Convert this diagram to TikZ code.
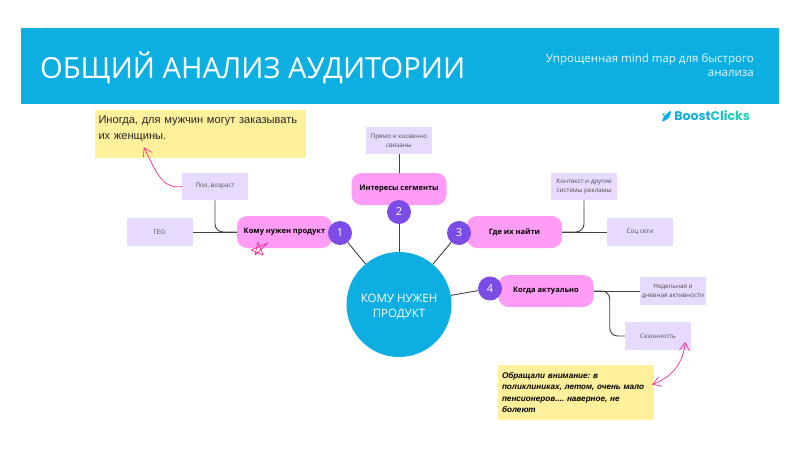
\documentclass[tikz,border=0pt]{standalone}
\usepackage{fontspec}
\setmainfont{Open Sans}
\newfontfamily\notefont{Liberation Sans}
\newfontfamily\logofont{Poppins}
\usetikzlibrary{arrows.meta,positioning,calc}
\definecolor{headblue}{HTML}{0DAEE2}
\definecolor{lilac}{HTML}{E8DAFF}
\definecolor{topicpink}{HTML}{FF9DF6}
\definecolor{badgeviolet}{HTML}{7B4DE6}
\definecolor{noteyellow}{HTML}{FFF09C}
\definecolor{penpink}{HTML}{EE2E8E}
\definecolor{logoteal}{HTML}{19CDB8}
\tikzset{
  leaf/.style={fill=lilac, minimum width=66pt, minimum height=27.5pt, inner sep=0pt, align=center,
    text=black!70, font=\fontsize{6.3}{9}\selectfont},
  topic/.style={fill=topicpink, rounded corners=10pt, minimum width=95pt, minimum height=32pt, inner sep=0pt,
    font=\bfseries\fontsize{7.5}{9}\selectfont},
  badge/.style={circle, fill=badgeviolet, minimum size=24pt, inner sep=0pt, text=white,
    font=\fontsize{11}{12}\selectfont},
  link/.style={draw=black!75, line width=0.9pt, rounded corners=8pt},
  pen/.style={draw=penpink, line width=0.7pt},
  barb/.style={-{Straight Barb[length=8pt,width=10pt]}}
}
\begin{document}
\begin{tikzpicture}[x=1pt, y=-1pt, on grid]
    \useasboundingbox (0,0) rectangle (800,450);
    \fill[headblue] (21,28) rectangle (779,104);
    \node[anchor=west, inner sep=0pt, text=white, font=\fontsize{29.1}{34}\selectfont] (title) at (40,68) {ОБЩИЙ АНАЛИЗ АУДИТОРИИ};
    \node[anchor=east, inner sep=0pt, align=right, text=white!90!headblue, font=\fontsize{11.5}{14.5}\selectfont] (subtitle) at (754,65) {Упрощенная mind map для быстрого\\анализа};
    \node[anchor=east, inner sep=0pt, font=\logofont\bfseries\fontsize{12.5}{14}\selectfont] (logo) at (750,115.5) {\textcolor{headblue}{Boost}\textcolor{logoteal!70!headblue}{Cli}\textcolor{logoteal}{cks}};
    \fill[headblue] (662,121) -- (664,116) -- (670,111) -- (671,112) -- (669,118) -- (664,121) -- cycle;
    \fill[logoteal] (662,114) -- (665,113) -- (663,116) -- cycle;

    \node[circle, fill=headblue, minimum size=105pt, inner sep=0pt, align=center, text=white, font=\fontsize{11.5}{15}\selectfont] (hub) at (399,304.5) {\rule{0pt}{14pt}КОМУ НУЖЕН\\ПРОДУКТ};

    \node[topic] (who) [above left=72.5pt and 114.5pt of hub] {Кому нужен продукт};
    \node[topic] (inter) [above=115.5pt of hub] {Интересы сегменты};
    \node[topic] (where) [above right=72.5pt and 115.5pt of hub] {Где их найти};
    \node[topic] (when) [above right=13.5pt and 147pt of hub] {Когда актуально};

    \node[leaf] (geo) [left=125pt of who] {ГЕО};
    \node[leaf] (sex) [above left=45.5pt and 69.5pt of who] {Пол, возраст};
    \node[leaf] (direct) [above=48.5pt of inter] {Прямо и косвенно\\связаны};
    \node[leaf] (context) [above right=45.5pt and 69.5pt of where] {Контекст и другие\\системы рекламы};
    \node[leaf] (social) [right=125.5pt of where] {Соц сети};
    \node[leaf] (week) [right=127pt of when] {Недельная и\\дневная активности};
    \node[leaf] (season) [below right=45pt and 112pt of when] {Сезонность};

    \path[link] (who) -- (geo);
    \path[link] (sex) |- (who);
    \path[link] (inter) -- (direct);
    \path[link] (where) -- (social);
    \path[link] (context) |- (where.east);
    \path[link] (when) -- (week);
    \coordinate (whenbend) at ([xshift=16pt]when.east);
    \path[link] (when.east) -- (whenbend) |- (season.west);

    \node[badge] (num1) [above left=71.5pt and 59pt of hub] {1};
    \node[badge] (num2) [above=92.5pt of hub] {2};
    \node[badge] (num3) [above right=71.5pt and 60pt of hub] {3};
    \node[badge] (num4) [above right=16pt and 91pt of hub] {4};
    \foreach \badgename in {num1,num2,num3,num4}
      \path[link] (\badgename) -- (hub);

    \node[fill=noteyellow, minimum width=211pt, minimum height=48pt, text width=204pt, inner xsep=3.5pt, inner ysep=2pt, align=left, text=black!85,
      font=\notefont\fontsize{11.1}{16.5}\selectfont] (noteA) [above left=52.5pt and 14.5pt of sex] {Иногда, для мужчин могут заказывать\\их женщины.\vspace{10pt}};
    \node[fill=noteyellow, minimum width=156pt, minimum height=55pt, text width=148pt, inner sep=4pt, align=left,
      font=\notefont\bfseries\itshape\frenchspacing\fontsize{8.15}{11.2}\selectfont] (noteB) [below left=56.5pt and 82pt of season] {Обращали внимание: в\\поликлиниках, летом, очень мало\\пенсионеров.... наверное, не\\болеют};

    \coordinate (tipA) at ([xshift=49pt,yshift=11pt]noteA.south west);
    \coordinate (tipS) at ([xshift=-6pt,yshift=8pt]season.south east);
    \coordinate (tipB) at ([xshift=-2pt,yshift=8pt]noteB.east);
    \draw[pen, barb] (sex.west) to[out=190, in=-62] (tipA);
    \draw[pen, {Straight Barb[length=8pt,width=10pt]}-{Straight Barb[length=8pt,width=10pt]}] (tipS) to[out=-95, in=20] (tipB);

    \draw[pen, line join=round] (258,242) -- (263,255) -- (251,250) -- (268,243) -- (255,255) -- cycle;
\end{tikzpicture}
\end{document}
